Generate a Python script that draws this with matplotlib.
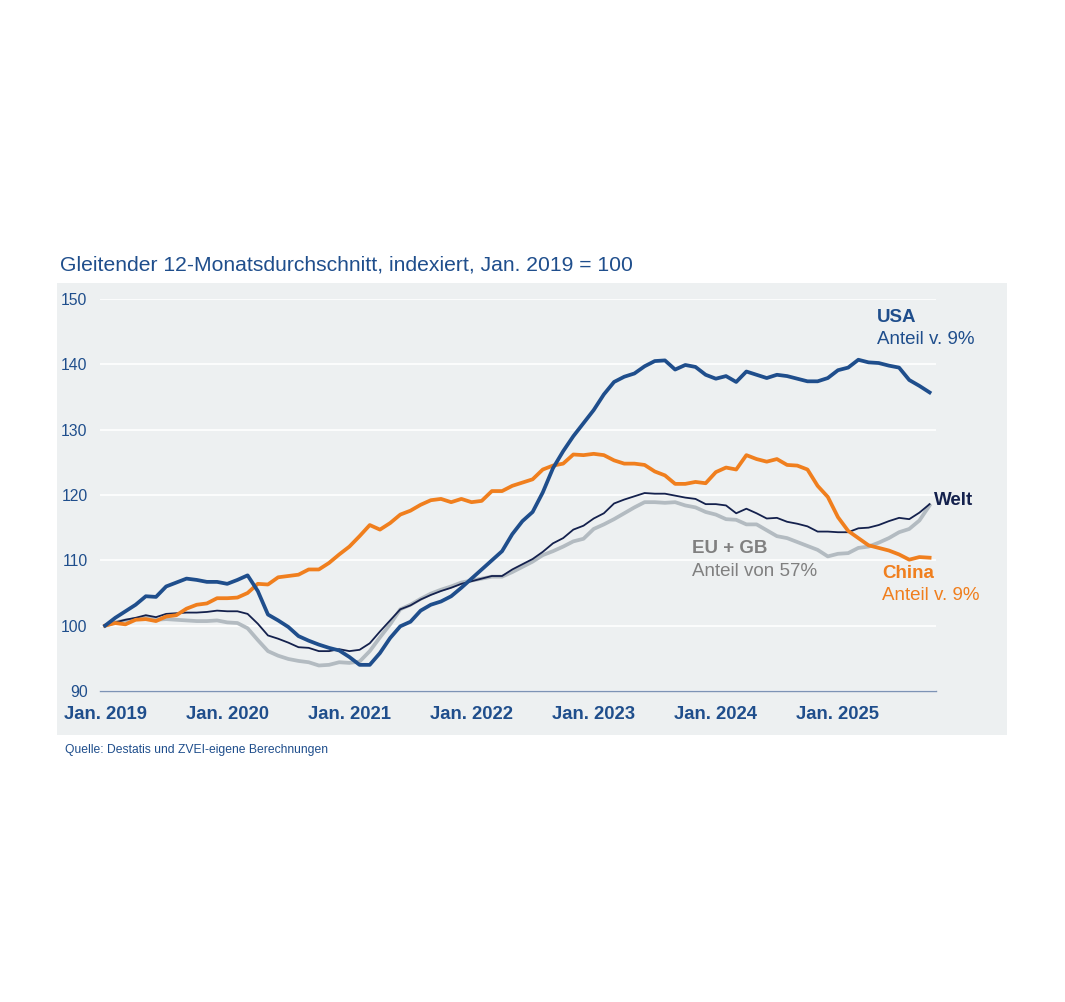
import numpy as np
import matplotlib
matplotlib.use("Agg")
import matplotlib.pyplot as plt
from matplotlib.patches import Rectangle

plt.rcParams['font.family'] = ['Liberation Sans', 'DejaVu Sans']

# monthly values, Jan. 2019 .. Oct. 2025 (index, Jan. 2019 = 100)
usa = [100, 101.2, 102.2, 103.2, 104.5, 104.4, 106.0, 106.6, 107.2, 107.0,
       106.7, 106.7, 106.4, 107.0, 107.7, 105.3, 101.7, 100.8, 99.8, 98.4,
       97.7, 97.1, 96.6, 96.2, 95.2, 94.0, 94.0, 95.8, 98.1, 99.9,
       100.6, 102.3, 103.2, 103.7, 104.5, 105.8, 107.2, 108.6, 110.0, 111.4,
       114.0, 116.0, 117.4, 120.4, 124.1, 126.7, 129.0, 131.0, 133.0, 135.4,
       137.3, 138.1, 138.6, 139.7, 140.5, 140.6, 139.2, 139.9, 139.6, 138.4,
       137.8, 138.2, 137.3, 138.9, 138.4, 137.9, 138.4, 138.2, 137.8, 137.4,
       137.4, 137.9, 139.1, 139.5, 140.7, 140.3, 140.2, 139.8, 139.5, 137.6,
       136.7, 135.7]
china = [100, 100.4, 100.2, 100.9, 101.0, 100.7, 101.4, 101.6, 102.6, 103.2,
         103.4, 104.2, 104.2, 104.3, 105.0, 106.4, 106.3, 107.4, 107.6, 107.8,
         108.6, 108.6, 109.6, 110.9, 112.1, 113.7, 115.4, 114.7, 115.7, 117.0,
         117.6, 118.5, 119.2, 119.4, 118.9, 119.4, 118.9, 119.1, 120.6, 120.6,
         121.4, 121.9, 122.4, 123.9, 124.5, 124.8, 126.2, 126.1, 126.3, 126.1,
         125.3, 124.8, 124.8, 124.6, 123.6, 123.0, 121.7, 121.7, 122.0, 121.8,
         123.5, 124.2, 123.9, 126.1, 125.5, 125.1, 125.5, 124.6, 124.5, 123.9,
         121.4, 119.7, 116.6, 114.5, 113.4, 112.3, 111.9, 111.5, 110.9, 110.1,
         110.5, 110.4]
welt = [100, 100.5, 100.9, 101.2, 101.6, 101.3, 101.8, 101.9, 102.0, 102.0,
        102.1, 102.3, 102.2, 102.2, 101.8, 100.3, 98.5, 98.0, 97.4, 96.7,
        96.6, 96.1, 96.1, 96.4, 96.1, 96.3, 97.3, 99.1, 100.8, 102.5,
        103.1, 104.0, 104.7, 105.3, 105.8, 106.4, 106.8, 107.2, 107.6, 107.6,
        108.6, 109.4, 110.2, 111.3, 112.6, 113.4, 114.7, 115.3, 116.4, 117.2,
        118.7, 119.3, 119.8, 120.3, 120.2, 120.2, 119.9, 119.6, 119.4, 118.6,
        118.6, 118.4, 117.2, 117.9, 117.2, 116.4, 116.5, 115.9, 115.6, 115.2,
        114.4, 114.4, 114.3, 114.3, 114.9, 115.0, 115.4, 116.0, 116.5, 116.3,
        117.3, 118.6]
eu_gb = [100, 100.5, 100.8, 101.0, 101.2, 100.9, 101.0, 100.9, 100.8, 100.7,
         100.7, 100.8, 100.5, 100.4, 99.6, 97.8, 96.1, 95.4, 94.9, 94.6,
         94.4, 93.9, 94.0, 94.4, 94.3, 94.5, 96.1, 98.2, 100.2, 102.5,
         103.2, 104.1, 104.9, 105.5, 106.0, 106.6, 106.9, 107.2, 107.5, 107.5,
         108.2, 109.0, 109.8, 110.8, 111.4, 112.1, 112.9, 113.3, 114.8, 115.5,
         116.3, 117.2, 118.1, 118.9, 118.9, 118.8, 118.9, 118.4, 118.1, 117.4,
         117.0, 116.3, 116.2, 115.5, 115.5, 114.6, 113.7, 113.4, 112.8, 112.2,
         111.6, 110.6, 111.0, 111.1, 111.9, 112.1, 112.7, 113.4, 114.3, 114.8,
         116.1, 118.4]

x_labels = ['Jan. 2019', 'Jan. 2020', 'Jan. 2021', 'Jan. 2022',
            'Jan. 2023', 'Jan. 2024', 'Jan. 2025']
y_ticks = [90, 100, 110, 120, 130, 140, 150]

blue = '#1f4e8c'
navy = '#14214d'
orange = '#f07f1e'
grey = '#b3bbc1'
bg = '#edf0f1'

fig = plt.figure(figsize=(10.65, 10.02), dpi=100)
# grey panel behind the chart
fig.patches.append(Rectangle((0.0535, 0.2665), 0.892, 0.4511, transform=fig.transFigure,
                             facecolor=bg, edgecolor='none', zorder=-10))

ax = fig.add_axes([0.0939, 0.3104, 0.7847, 0.3912])
ax.set_facecolor(bg)
months = np.arange(len(usa))

ax.plot(months, eu_gb, color=grey, lw=2.7, zorder=3)
ax.plot(months, welt, color=navy, lw=1.3, zorder=4)
ax.plot(months, china, color=orange, lw=2.7, zorder=5)
ax.plot(months, usa, color=blue, lw=2.7, zorder=6)

ax.set_xlim(-0.5, 81.6)
ax.set_ylim(90, 150)
ax.set_yticks(y_ticks)
ax.set_xticks(np.arange(len(x_labels)) * 12)
ax.set_xticklabels(x_labels, fontsize=13.3, fontweight='bold', color=blue)
ax.tick_params(axis='x', length=0, pad=11)
ax.tick_params(axis='y', length=0, pad=9, labelsize=11.3, labelcolor=blue)
ax.grid(axis='y', color='white', lw=1.2, zorder=1)
ax.set_axisbelow(True)
for s in ['top', 'right', 'left']:
    ax.spines[s].set_visible(False)
ax.spines['bottom'].set_color('#7d93b5')
ax.spines['bottom'].set_linewidth(1.0)

# labels at line ends
ax.text(75.8, 147.2, 'USA', color=blue, fontsize=13.5, fontweight='bold', va='center')
ax.text(75.8, 143.8, 'Anteil v. 9%', color=blue, fontsize=13.5, va='center')
ax.text(81.4, 119.1, 'Welt', color=navy, fontsize=13.5, fontweight='bold', va='center')
ax.text(57.7, 111.8, 'EU + GB', color='#808080', fontsize=13.5, fontweight='bold', va='center')
ax.text(57.7, 108.3, 'Anteil von 57%', color='#808080', fontsize=13.5, va='center')
ax.text(76.3, 108.0, 'China', color=orange, fontsize=13.5, fontweight='bold', va='center')
ax.text(76.3, 104.6, 'Anteil v. 9%', color=orange, fontsize=13.5, va='center')

fig.text(60 / 1065, 1 - 265 / 1002, 'Gleitender 12-Monatsdurchschnitt, indexiert, Jan. 2019 = 100',
         color=blue, fontsize=15.2, va='center')
fig.text(65 / 1065, 1 - 750 / 1002, 'Quelle: Destatis und ZVEI-eigene Berechnungen',
         color=blue, fontsize=8.7, va='center')

fig.savefig('out.png', dpi=100)
